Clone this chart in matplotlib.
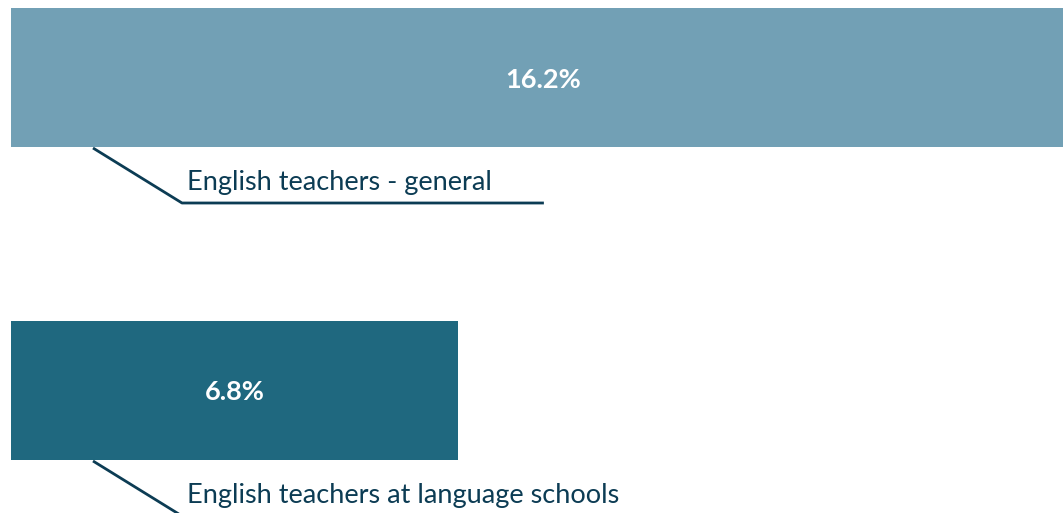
import matplotlib.pyplot as plt
from matplotlib.transforms import offset_copy

categories = ["English teachers - general", "English teachers at language schools"]
values = [16.2, 6.8]
value_labels = ["16.2%", "6.8%"]
bar_colors = ["#72a0b5", "#1f687f"]

W, H, DPI = 1063, 513, 100
INK = "#0c3c54"

plt.rcParams["font.family"] = ["Lato", "DejaVu Sans"]

fig = plt.figure(figsize=(W / DPI, H / DPI), dpi=DPI)
ax = fig.add_axes([0, 0, 1, 1])

# pixel scale: ~65.7 px per percentage point, bars start 11 px from the left
px_per_unit = 65.74
ax.set_xlim(-11 / px_per_unit, (W - 11) / px_per_unit)
row_gap = 313
ax.set_ylim((H - 77.5) / row_gap, -77.5 / row_gap)
bar_h = 139 / row_gap

ypos = list(range(len(categories)))
ax.barh(ypos, values, height=bar_h, color=bar_colors)
ax.axis("off")

inv = ax.transData.inverted()
for y, v, lab, cat in zip(ypos, values, value_labels, categories):
    ax.text(v / 2, y, lab, ha="center", va="center", color="white",
            fontsize=19.5, fontweight="bold",
            transform=offset_copy(ax.transData, fig=fig, x=0, y=-2, units="dots"))

    # leader line hanging from the bar's lower edge, then running under the label
    anchor_x = 82 / px_per_unit
    anchor_y = y + bar_h / 2
    t = ax.text(anchor_x, anchor_y, cat, fontsize=19.5, color=INK,
                ha="left", va="baseline",
                transform=offset_copy(ax.transData, fig=fig, x=94, y=-43, units="dots"))
    fig.canvas.draw()
    tw = t.get_window_extent().width
    x0, y0 = ax.transData.transform((anchor_x, anchor_y))
    xs = [x0, x0 + 89, x0 + 89 + 5 + tw + 52]
    ys = [y0 - 1, y0 - 56, y0 - 56]
    pts = inv.transform(list(zip(xs, ys)))
    ax.plot(pts[:, 0], pts[:, 1], color=INK, lw=2, solid_capstyle="butt",
            clip_on=False)

fig.savefig("out.png", dpi=DPI)
